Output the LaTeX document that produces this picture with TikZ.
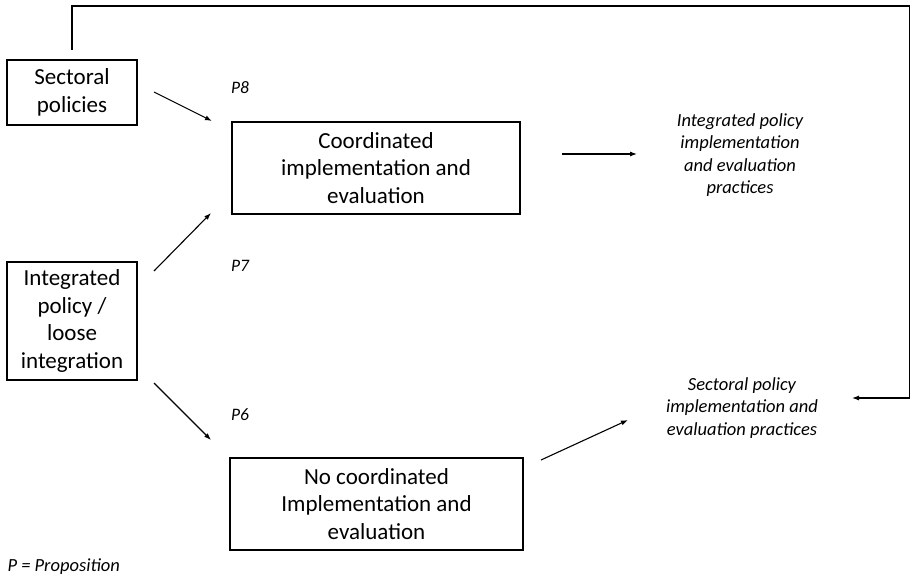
\documentclass[tikz,border=0pt]{standalone}
\usepackage{fontspec}
\setmainfont{Carlito}
\usepackage{tikz}
\usetikzlibrary{arrows.meta,positioning}

\tikzset{
  box/.style={draw, line width=1.2pt, align=center, inner sep=0pt, font=\fontsize{23}{27.5}\selectfont},
  result/.style={align=center, font=\fontsize{18.5}{22.5}\selectfont\itshape},
  prop/.style={font=\fontsize{17.5}{20}\selectfont\itshape},
  arr/.style={line width=1.1pt, -{Latex[length=7pt,width=5pt]}}
}

\begin{document}
\begin{tikzpicture}[x=1pt, y=-1pt]
        \useasboundingbox (0, 0) rectangle (911, 578);

        \node[box, minimum width=130pt, minimum height=65pt] (sect) at (72, 92.5) {Sectoral\\policies};
        \node[box, minimum width=130pt, minimum height=118pt] (integ) at (72, 321) {Integrated\\policy /\\loose\\integration};
        \node[box, minimum width=288pt, minimum height=92pt] (coord) at (376, 168) {Coordinated\\implementation and\\evaluation};
        \node[box, minimum width=293pt, minimum height=92pt] (nocoord) at (376.5, 504) {No coordinated\\Implementation and\\evaluation};

        \node[result] (intprac) at (740, 155) {Integrated policy\\implementation\\and evaluation\\practices};
        \node[result] (secprac) at (742, 408) {Sectoral policy\\implementation and\\evaluation practices};

        \node[prop] (p8) at (240, 88) {P8};
        \node[prop] (p7) at (240, 266) {P7};
        \node[prop] (p6) at (240, 415) {P6};
        \node[prop, font=\fontsize{18.5}{20}\selectfont\itshape, anchor=west] (legend) at (4, 567) {P = Proposition};

        % feedback line
        \coordinate (top0) at (72, 50);
        \coordinate (top1) at (72, 6);
        \coordinate (top2) at (909.5, 6);
        \coordinate (fb) at (909.5, 398);
        \draw[line width=1.2pt] (top0) -- (top1) -- (top2) -- (fb);
        \draw[arr] (fb) -- (852, 398);

        % arrows
        \coordinate (a1) at (154, 92);
        \coordinate (b1) at (212, 121);
        \coordinate (a2) at (154, 271);
        \coordinate (b2) at (211, 213);
        \coordinate (a3) at (154, 383);
        \coordinate (b3) at (211, 440);
        \coordinate (a4) at (562, 154);
        \coordinate (b4) at (637, 154);
        \coordinate (a5) at (541, 460);
        \coordinate (b5) at (628, 420);
        \draw[arr] (a1) -- (b1);
        \draw[arr] (a2) -- (b2);
        \draw[arr] (a3) -- (b3);
        \draw[arr] (a4) -- (b4);
        \draw[arr] (a5) -- (b5);
\end{tikzpicture}
\end{document}
